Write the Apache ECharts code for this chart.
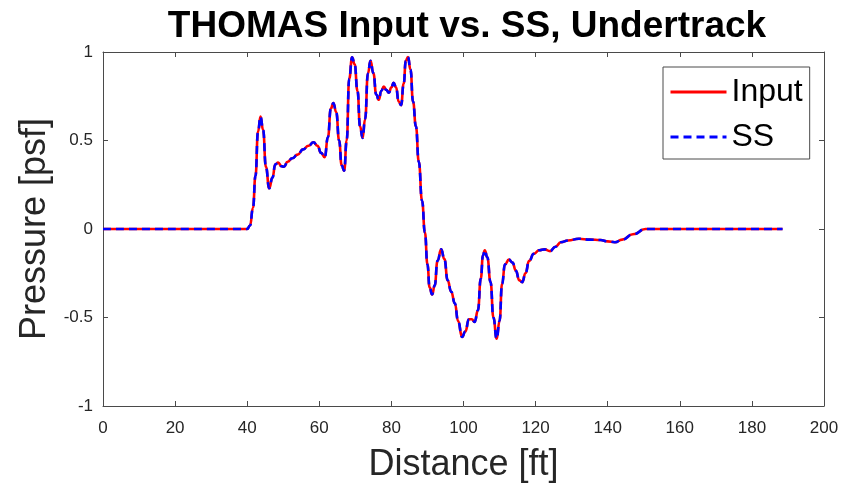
<!DOCTYPE html>
<html>
<head>
<meta charset="utf-8">
<script src="https://cdn.jsdelivr.net/npm/echarts@6/dist/echarts.min.js"></script>
<style>
  html, body { margin: 0; padding: 0; background: #fff; }
  #chart { width: 854px; height: 484px; }
</style>
</head>
<body>
<div id="chart"></div>
<script>
// Pressure signature along the track (distance in ft, pressure in psf)
const distanceFt = [
  0, 40, 40.8, 41.6, 42.3, 43.0, 43.7, 44.4, 45.2, 46.1, 47.0, 47.8, 48.6, 49.5, 50.2,
  51.2, 52.5, 54.0, 55.5, 57.0, 58.4, 59.5, 60.5, 61.5, 62.4, 63.2, 63.9, 64.7, 65.5,
  66.2, 66.9, 67.6, 68.3, 69.1, 69.8, 70.6, 71.3, 72.0, 72.7, 73.5, 74.2, 75.0, 75.8,
  76.5, 77.2, 77.9, 78.6, 79.3, 80.0, 80.6, 81.3, 82.0, 82.7, 83.4, 84.0, 84.6, 85.3,
  86.0, 86.8, 87.6, 88.5, 89.3, 90.0, 90.6, 91.3, 92.0, 92.8, 93.8, 94.7, 95.6, 96.6,
  97.6, 98.5, 99.6, 100.5, 101.5, 102.3, 103.1, 104.0, 104.8, 105.4, 105.9, 106.6,
  107.5, 108.3, 109.2, 110.0, 110.7, 111.5, 112.6, 113.6, 114.5, 115.5, 116.3, 117.2,
  118.2, 119.5, 121.0, 122.5, 124.0, 125.5, 127.0, 129.0, 132.0, 135.0, 138.0, 140.0,
  142.0, 144.0, 147.0, 150.5, 188.5
];
const inputPsf = [
  0, 0, 0.02, 0.12, 0.30, 0.55, 0.635, 0.56, 0.35, 0.23, 0.29, 0.365, 0.375, 0.355, 0.352,
  0.38, 0.40, 0.42, 0.45, 0.47, 0.49, 0.47, 0.43, 0.405, 0.52, 0.68, 0.712, 0.66, 0.50,
  0.36, 0.33, 0.50, 0.85, 0.97, 0.93, 0.78, 0.58, 0.515, 0.62, 0.88, 0.95, 0.88, 0.76,
  0.73, 0.78, 0.805, 0.785, 0.77, 0.80, 0.826, 0.80, 0.72, 0.70, 0.82, 0.95, 0.972, 0.90,
  0.72, 0.58, 0.38, 0.16, -0.02, -0.20, -0.33, -0.37, -0.32, -0.18, -0.115, -0.17, -0.29, -0.355,
  -0.42, -0.52, -0.61, -0.58, -0.51, -0.51, -0.525, -0.46, -0.28, -0.15, -0.12, -0.16,
  -0.30, -0.50, -0.62, -0.52, -0.31, -0.20, -0.173, -0.19, -0.235, -0.29, -0.30, -0.25,
  -0.18, -0.14, -0.12, -0.115, -0.125, -0.10, -0.075, -0.065, -0.055, -0.06, -0.062, -0.07,
  -0.075, -0.06, -0.03, 0, 0
];
// Steady-state result overlays the input trace
const ssPsf = [
  0, 0, 0.02, 0.12, 0.30, 0.55, 0.635, 0.56, 0.35, 0.23, 0.29, 0.365, 0.375, 0.355, 0.352,
  0.38, 0.40, 0.42, 0.45, 0.47, 0.49, 0.47, 0.43, 0.405, 0.52, 0.68, 0.712, 0.66, 0.50,
  0.36, 0.33, 0.50, 0.85, 0.97, 0.93, 0.78, 0.58, 0.515, 0.62, 0.88, 0.95, 0.88, 0.76,
  0.73, 0.78, 0.805, 0.785, 0.77, 0.80, 0.826, 0.80, 0.72, 0.70, 0.82, 0.95, 0.972, 0.90,
  0.72, 0.58, 0.38, 0.16, -0.02, -0.20, -0.33, -0.37, -0.32, -0.18, -0.115, -0.17, -0.29, -0.355,
  -0.42, -0.52, -0.61, -0.58, -0.51, -0.51, -0.525, -0.46, -0.28, -0.15, -0.12, -0.16,
  -0.30, -0.50, -0.62, -0.52, -0.31, -0.20, -0.173, -0.19, -0.235, -0.29, -0.30, -0.25,
  -0.18, -0.14, -0.12, -0.115, -0.125, -0.10, -0.075, -0.065, -0.055, -0.06, -0.062, -0.07,
  -0.075, -0.06, -0.03, 0, 0
];
const seriesNames = ['Input', 'SS'];
const titleText = 'THOMAS Input vs. SS, Undertrack';
const xAxisLabel = 'Distance [ft]';
const yAxisLabel = 'Pressure [psf]';

const FONT = '"Liberation Sans", Arial, Helvetica, sans-serif';
const AXIS_COLOR = '#4a4a4a';
const TEXT_COLOR = '#262626';

function pairs(xs, ys) { return xs.map((x, i) => [x, ys[i]]); }

const boxAxis = {
  axisLine: { show: true, onZero: false, lineStyle: { color: AXIS_COLOR, width: 1 } },
  axisTick: { show: true, inside: true, length: 5, lineStyle: { color: AXIS_COLOR } },
  splitLine: { show: false }
};

const chart = echarts.init(document.getElementById('chart'), null, { renderer: 'canvas' });
chart.setOption({
  animation: false,
  backgroundColor: '#ffffff',
  title: {
    text: titleText,
    left: 462, top: 3, textAlign: 'center',
    textStyle: { fontFamily: FONT, fontSize: 37, fontWeight: 'bold', color: '#000' }
  },
  grid: { left: 103, right: 30, top: 52, bottom: 78, containLabel: false, outerBoundsMode: 'none' },
  legend: {
    left: 663, top: 67, orient: 'vertical',
    backgroundColor: '#fff', borderColor: AXIS_COLOR, borderWidth: 1,
    padding: [9, 7, 6, 6], itemGap: 13, itemWidth: 56, itemHeight: 14,
    lineStyle: { width: 3 },
    itemStyle: { opacity: 0 },
    textStyle: { fontFamily: FONT, fontSize: 32, color: '#000', lineHeight: 32, padding: [0, 0, 0, 0] },
    data: seriesNames
  },
  xAxis: [
    Object.assign({}, boxAxis, {
      type: 'value', position: 'bottom', min: 0, max: 200, interval: 20,
      axisLabel: { show: true, fontFamily: FONT, fontSize: 17, color: TEXT_COLOR, margin: 14 },
      name: xAxisLabel, nameLocation: 'middle', nameGap: 41,
      nameTextStyle: { fontFamily: FONT, fontSize: 36, color: TEXT_COLOR }
    }),
    Object.assign({}, boxAxis, {
      type: 'value', position: 'top', min: 0, max: 200, interval: 20,
      axisLabel: { show: false }
    })
  ],
  yAxis: [
    Object.assign({}, boxAxis, {
      type: 'value', position: 'left', min: -1, max: 1, interval: 0.5,
      axisLabel: { show: true, fontFamily: FONT, fontSize: 17, color: TEXT_COLOR, margin: 10 },
      name: yAxisLabel, nameLocation: 'middle', nameGap: 47, nameRotate: 90,
      nameTextStyle: { fontFamily: FONT, fontSize: 36, color: TEXT_COLOR }
    }),
    Object.assign({}, boxAxis, {
      type: 'value', position: 'right', min: -1, max: 1, interval: 0.5,
      axisLabel: { show: false }
    })
  ],
  series: [
    {
      name: seriesNames[0], type: 'line', xAxisIndex: 0, yAxisIndex: 0,
      data: pairs(distanceFt, inputPsf),
      symbol: 'none', smooth: 0.5, smoothMonotone: 'x',
      lineStyle: { color: '#ff0000', width: 2.6, type: 'solid' },
      itemStyle: { color: '#ff0000' }, z: 2
    },
    {
      name: seriesNames[1], type: 'line', xAxisIndex: 0, yAxisIndex: 0,
      data: pairs(distanceFt, ssPsf),
      symbol: 'none', smooth: 0.5, smoothMonotone: 'x',
      lineStyle: { color: '#0000ff', width: 2.6, type: [8, 5] },
      itemStyle: { color: '#0000ff' }, z: 3
    }
  ]
});
</script>
</body>
</html>
